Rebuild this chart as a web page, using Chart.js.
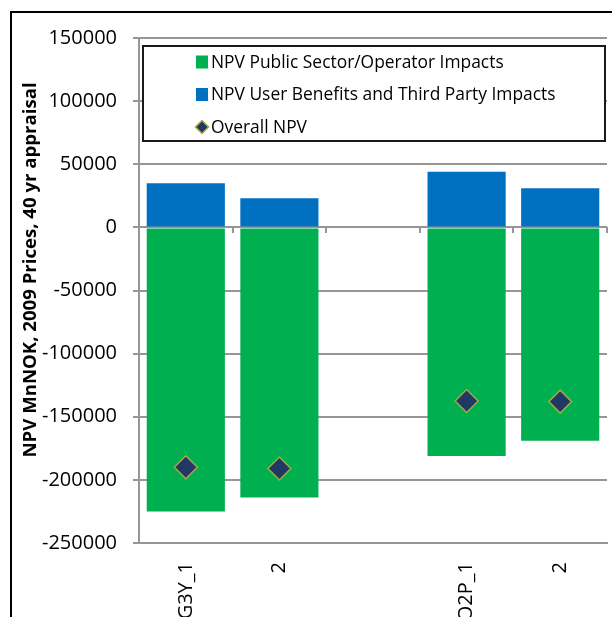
<!DOCTYPE html>
<html>
<head>
<meta charset="utf-8">
<script src="https://cdn.jsdelivr.net/npm/chart.js@4.4.1/dist/chart.umd.min.js"></script>
<style>
  html, body { margin: 0; padding: 0; background: #fff; overflow: hidden; }
  #contenedor { position: relative; width: 612px; height: 617px; }
  #contenedor canvas { position: absolute; left: 0; top: 0; }
  #marco { position: absolute; left: 10px; top: 11px; width: 620px; height: 620px;
           border-left: 2px solid #000; border-top: 2px solid #000; pointer-events: none; }
</style>
</head>
<body>
<div id="contenedor">
  <canvas id="grafica" width="612" height="617"></canvas>
  <div id="marco"></div>
</div>
<script>
// Datos
const categorias = ["G3Y_1", "2", "", "O2P_1", "2"];
const publico = [-225000, -214000, null, -181000, -169000];
const usuarios = [35000, 23000, null, 44000, 31000];
const totalNPV = [-190000, -191000, null, -137500, -138000];
const ticksY = [-250000, -200000, -150000, -100000, -50000, 0, 50000, 100000, 150000];
const nombresSeries = [
    "NPV Public Sector/Operator Impacts",
    "NPV User Benefits and Third Party Impacts",
    "Overall NPV"
];
const tituloY = "NPV MnNOK, 2009 Prices, 40 yr appraisal";

const fuente = '"Open Sans", "Liberation Sans", sans-serif';
const gris = '#969696';

// Leyenda dentro del área y título del eje (dibujados a mano)
const leyendaYTitulo = {
    id: 'leyendaYTitulo',
    afterDraw(chart) {
        const c = chart.ctx;
        const area = chart.chartArea;

        // título del eje Y
        c.save();
        c.translate(31, 270);
        c.rotate(-Math.PI / 2);
        c.font = 'bold 18.6px ' + fuente;
        c.textAlign = 'center';
        c.textBaseline = 'middle';
        c.fillStyle = '#000';
        c.fillText(tituloY, 0, 0);
        c.restore();

        // caja de la leyenda
        const x0 = area.left + 4, y0 = area.top + 8;
        const ancho = area.right - 2 - x0, alto = 95;
        c.save();
        c.fillStyle = '#fff';
        c.fillRect(x0, y0, ancho, alto);
        c.strokeStyle = '#1a1a1a';
        c.lineWidth = 2;
        c.strokeRect(x0, y0, ancho, alto);

        c.font = '17.4px ' + fuente;
        c.textBaseline = 'middle';
        c.textAlign = 'left';
        const filas = [y0 + 16, y0 + 48.5, y0 + 81];
        chart.data.datasets.forEach((ds, i) => {
            const yc = filas[i];
            const xm = x0 + 53;
            if (ds.type === 'line') {
                c.beginPath();
                c.moveTo(xm + 6, yc - 6.5);
                c.lineTo(xm + 12.5, yc);
                c.lineTo(xm + 6, yc + 6.5);
                c.lineTo(xm - 0.5, yc);
                c.closePath();
                c.fillStyle = ds.pointBackgroundColor;
                c.fill();
                c.strokeStyle = ds.pointBorderColor;
                c.lineWidth = 1.5;
                c.stroke();
            } else {
                c.fillStyle = ds.backgroundColor;
                c.fillRect(xm, yc - 6.5, 12, 13);
            }
            c.fillStyle = '#000';
            c.fillText(ds.label, xm + 15, yc + 1);
        });
        c.restore();
    }
};

const ctx = document.getElementById('grafica').getContext('2d');
new Chart(ctx, {
    type: 'bar',
    data: {
        labels: categorias,
        datasets: [
            {
                label: nombresSeries[0],
                data: publico,
                backgroundColor: '#00B050',
                stack: 'npv',
                barPercentage: 0.835,
                categoryPercentage: 1,
                order: 2
            },
            {
                label: nombresSeries[1],
                data: usuarios,
                backgroundColor: '#0070C0',
                stack: 'npv',
                barPercentage: 0.835,
                categoryPercentage: 1,
                order: 2
            },
            {
                type: 'line',
                label: nombresSeries[2],
                data: totalNPV,
                stack: 'total',
                showLine: false,
                pointStyle: 'rectRot',
                pointRadius: 11.5,
                pointBackgroundColor: '#1F3864',
                pointBorderColor: '#A8A646',
                pointBorderWidth: 1.5,
                order: 1
            }
        ]
    },
    options: {
        responsive: false,
        animation: false,
        layout: { autoPadding: false, padding: { left: 0, top: 38, right: 5, bottom: 0 } },
        plugins: {
            legend: { display: false },
            tooltip: { enabled: false }
        },
        scales: {
            x: {
                stacked: true,
                grid: { display: false, drawTicks: false },
                border: { display: true, color: gris, width: 2 },
                ticks: {
                    autoSkip: false,
                    minRotation: 90,
                    maxRotation: 90,
                    padding: 19,
                    color: '#000',
                    font: { family: fuente, size: 20 }
                },
                afterFit: (escala) => { escala.height = 74; }
            },
            x2: {
                type: 'category',
                axis: 'x',
                position: { y: 0 },
                offset: true,
                grid: { offset: true, drawOnChartArea: false, drawTicks: true, tickLength: 6, color: gris, lineWidth: 2 },
                border: { display: false },
                ticks: { display: false }
            },
            y: {
                stacked: true,
                min: ticksY[0],
                max: ticksY[ticksY.length - 1],
                ticks: {
                    stepSize: ticksY[1] - ticksY[0],
                    padding: 16,
                    color: '#000',
                    font: { family: fuente, size: 20 },
                    callback: (valor) => String(valor)
                },
                grid: { color: gris, lineWidth: 2, tickLength: 6 },
                border: { color: gris, width: 2 },
                afterFit: (escala) => { escala.width = 139; }
            }
        }
    },
    plugins: [leyendaYTitulo]
});
</script>
</body>
</html>
